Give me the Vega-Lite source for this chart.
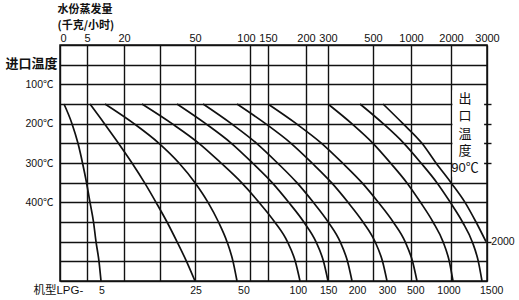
{
  "$schema": "https://vega.github.io/schema/vega-lite/v6.json",
  "width": 427,
  "height": 236,
  "autosize": {"type": "none"},
  "padding": {"left": 60, "top": 45, "right": 32, "bottom": 19},
  "background": "white",
  "config": {
    "view": {"stroke": "#111", "strokeWidth": 1.5},
    "font": "Liberation Sans"
  },
  "resolve": {"axis": {"y": "independent"}},
  "datasets": {
    "curves": [
      {"model": "5", "temp": 150, "evap": 0.74}, {"model": "5", "temp": 200, "evap": 2.22}, {"model": "5", "temp": 250, "evap": 3.33}, {"model": "5", "temp": 300, "evap": 4.17}, {"model": "5", "temp": 350, "evap": 4.91}, {"model": "5", "temp": 400, "evap": 6.22}, {"model": "5", "temp": 450, "evap": 7.64}, {"model": "5", "temp": 500, "evap": 8.65}, {"model": "5", "temp": 550, "evap": 9.86}, {"model": "5", "temp": 600, "evap": 10.68},
      {"model": "25", "temp": 150, "evap": 6.22}, {"model": "25", "temp": 200, "evap": 12.09}, {"model": "25", "temp": 250, "evap": 17.77}, {"model": "25", "temp": 300, "evap": 23.38}, {"model": "25", "temp": 350, "evap": 28.66}, {"model": "25", "temp": 400, "evap": 33.52}, {"model": "25", "temp": 450, "evap": 38.17}, {"model": "25", "temp": 500, "evap": 42.39}, {"model": "25", "temp": 550, "evap": 46.41}, {"model": "25", "temp": 600, "evap": 50},
      {"model": "50", "temp": 150, "evap": 12.3}, {"model": "50", "temp": 200, "evap": 24.23}, {"model": "50", "temp": 250, "evap": 34.79}, {"model": "50", "temp": 300, "evap": 43.24}, {"model": "50", "temp": 350, "evap": 50}, {"model": "50", "temp": 400, "evap": 61.82}, {"model": "50", "temp": 450, "evap": 71.36}, {"model": "50", "temp": 500, "evap": 79.09}, {"model": "50", "temp": 550, "evap": 84.55}, {"model": "50", "temp": 600, "evap": 88.18},
      {"model": "100", "temp": 150, "evap": 27.6}, {"model": "100", "temp": 200, "evap": 40.3}, {"model": "100", "temp": 250, "evap": 53.6}, {"model": "100", "temp": 300, "evap": 73.6}, {"model": "100", "temp": 350, "evap": 92.3}, {"model": "100", "temp": 400, "evap": 125.0}, {"model": "100", "temp": 450, "evap": 158.8}, {"model": "100", "temp": 500, "evap": 175.5}, {"model": "100", "temp": 550, "evap": 185.9}, {"model": "100", "temp": 600, "evap": 192.1},
      {"model": "150", "temp": 150, "evap": 42.4}, {"model": "150", "temp": 200, "evap": 59.7}, {"model": "150", "temp": 250, "evap": 83.1}, {"model": "150", "temp": 300, "evap": 106.9}, {"model": "150", "temp": 350, "evap": 155.4}, {"model": "150", "temp": 400, "evap": 177.2}, {"model": "150", "temp": 450, "evap": 197.1}, {"model": "150", "temp": 500, "evap": 245.0}, {"model": "150", "temp": 550, "evap": 279.5}, {"model": "150", "temp": 600, "evap": 300},
      {"model": "200", "temp": 150, "evap": 57.3}, {"model": "200", "temp": 200, "evap": 83.0}, {"model": "200", "temp": 250, "evap": 118.3}, {"model": "200", "temp": 300, "evap": 162.5}, {"model": "200", "temp": 350, "evap": 188.0}, {"model": "200", "temp": 400, "evap": 233.2}, {"model": "200", "temp": 450, "evap": 300.9}, {"model": "200", "temp": 500, "evap": 353.8}, {"model": "200", "temp": 550, "evap": 386.7}, {"model": "200", "temp": 600, "evap": 406.7},
      {"model": "300", "temp": 150, "evap": 88.2}, {"model": "300", "temp": 200, "evap": 143.1}, {"model": "300", "temp": 250, "evap": 180.3}, {"model": "300", "temp": 300, "evap": 227.3}, {"model": "300", "temp": 350, "evap": 315.6}, {"model": "300", "temp": 400, "evap": 388.9}, {"model": "300", "temp": 450, "evap": 455.5}, {"model": "300", "temp": 500, "evap": 526.3}, {"model": "300", "temp": 550, "evap": 625.0}, {"model": "300", "temp": 600, "evap": 684.2},
      {"model": "500", "temp": 150, "evap": 150}, {"model": "500", "temp": 200, "evap": 187.2}, {"model": "500", "temp": 250, "evap": 270.9}, {"model": "500", "temp": 300, "evap": 364.4}, {"model": "500", "temp": 350, "evap": 450.7}, {"model": "500", "temp": 400, "evap": 569.7}, {"model": "500", "temp": 450, "evap": 765.8}, {"model": "500", "temp": 500, "evap": 922.4}, {"model": "500", "temp": 550, "evap": 1037.5}, {"model": "500", "temp": 600, "evap": 1150},
      {"model": "1000", "temp": 150, "evap": 300}, {"model": "1000", "temp": 200, "evap": 405.8}, {"model": "1000", "temp": 250, "evap": 500}, {"model": "1000", "temp": 300, "evap": 730.3}, {"model": "1000", "temp": 350, "evap": 944.8}, {"model": "1000", "temp": 400, "evap": 1237.5}, {"model": "1000", "temp": 450, "evap": 1550}, {"model": "1000", "temp": 500, "evap": 1800}, {"model": "1000", "temp": 550, "evap": 1957.5}, {"model": "1000", "temp": 600, "evap": 2055.6},
      {"model": "1500", "temp": 150, "evap": 442.2}, {"model": "1500", "temp": 200, "evap": 634.2}, {"model": "1500", "temp": 250, "evap": 906.6}, {"model": "1500", "temp": 300, "evap": 1250}, {"model": "1500", "temp": 350, "evap": 1647.5}, {"model": "1500", "temp": 400, "evap": 1982.5}, {"model": "1500", "temp": 450, "evap": 2319.5}, {"model": "1500", "temp": 500, "evap": 2588.9}, {"model": "1500", "temp": 550, "evap": 2758.4}, {"model": "1500", "temp": 600, "evap": 2861.2},
      {"model": "2000", "temp": 150, "evap": 631.6}, {"model": "2000", "temp": 200, "evap": 894.8}, {"model": "2000", "temp": 250, "evap": 1275}, {"model": "2000", "temp": 300, "evap": 1625}, {"model": "2000", "temp": 350, "evap": 2000}, {"model": "2000", "temp": 400, "evap": 2388.9}, {"model": "2000", "temp": 450, "evap": 2694.4}, {"model": "2000", "temp": 500, "evap": 2972.2}
    ],
    "labels": [
      {"model": "5", "evap": 11, "temp": 625},
      {"model": "25", "evap": 50.9, "temp": 625},
      {"model": "50", "evap": 94.5, "temp": 625},
      {"model": "100", "evap": 189.9, "temp": 625},
      {"model": "150", "evap": 303, "temp": 625},
      {"model": "200", "evap": 431, "temp": 625},
      {"model": "300", "evap": 691, "temp": 625},
      {"model": "500", "evap": 1120, "temp": 625},
      {"model": "1000", "evap": 1950, "temp": 625},
      {"model": "1500", "evap": 3130, "temp": 625},
      {"model": "2000", "evap": 3444, "temp": 500}
    ]
  },
  "layer": [
    {
      "data": {"name": "curves"},
      "mark": {"type": "line", "interpolate": "monotone", "color": "#111", "strokeWidth": 1.7},
      "encoding": {
        "x": {
          "field": "evap", "type": "quantitative",
          "scale": {"domain": [0, 5, 20, 50, 100, 150, 200, 300, 500, 1000, 2000, 3000], "range": [0, 27, 64, 135, 190, 208, 246, 268, 313, 351, 391, 427], "nice": false, "zero": false},
          "axis": {
            "orient": "top",
            "values": [0, 5, 20, 35, 50, 100, 150, 200, 300, 500, 1000, 2000, 3000],
            "tickCount": 30,
            "labelExpr": "datum.value == 35 ? '' : '' + datum.value",
            "labelOverlap": false,
            "labelFlush": false,
            "labelAlign": {"condition": {"test": "datum.value == 0", "value": "left"}, "value": "center"},
            "labelOffset": {"condition": {"test": "datum.value == 100", "value": -4}, "value": 0},
            "labelFontSize": 11,
            "labelFont": "Liberation Sans",
            "labelColor": "#111",
            "labelPadding": 1.5,
            "ticks": false,
            "domain": false,
            "grid": true,
            "gridColor": "#111",
            "gridWidth": 1.4,
            "gridOpacity": 1,
            "title": ["水份蒸发量", "(千克/小时)"],
            "titleFont": "Noto Sans CJK SC",
            "titleFontSize": 11,
            "titleFontWeight": "bold",
            "titleColor": "#111",
            "titleAngle": 0,
            "titleAlign": "left",
            "titleBaseline": "top",
            "titleLineHeight": 16,
            "titleX": -3,
            "titleY": -41.5
          }
        },
        "y": {
          "field": "temp", "type": "quantitative",
          "scale": {"domain": [0, 600], "reverse": true, "nice": false, "zero": false},
          "axis": {
            "orient": "left",
            "values": [0, 50, 100, 150, 200, 250, 300, 350, 400, 450, 500, 550, 600],
            "tickCount": 30,
            "labelExpr": "(datum.value == 100 || datum.value == 200 || datum.value == 300 || datum.value == 400) ? datum.value + '℃' : ''",
            "labelFont": "Liberation Sans, Noto Sans CJK SC",
            "labelFontSize": 10.5,
            "labelColor": "#111",
            "labelPadding": 7,
            "ticks": false,
            "domain": false,
            "grid": true,
            "gridColor": "#111",
            "gridWidth": 1.4,
            "gridOpacity": 1,
            "title": "进口温度",
            "titleFont": "Noto Sans CJK SC",
            "titleFontSize": 13,
            "titleFontWeight": "bold",
            "titleColor": "#111",
            "titleAngle": 0,
            "titleAlign": "right",
            "titleBaseline": "middle",
            "titleX": -3,
            "titleY": 18
          }
        },
        "detail": {"field": "model"},
        "order": {"field": "temp"}
      }
    },
    {
      "data": {"values": [{"x1": 2040, "x2": 2920, "y1": 115, "y2": 335}]},
      "mark": {"type": "rect", "color": "white"},
      "encoding": {
        "x": {"field": "x1", "type": "quantitative"},
        "x2": {"field": "x2"},
        "y": {
          "field": "y1", "type": "quantitative",
          "axis": {"orient": "right", "values": [150, 200, 250, 300, 500], "tickCount": 30, "labels": false, "grid": false, "domain": false, "tickSize": 4, "tickColor": "#111", "tickWidth": 1.4, "title": null}
        },
        "y2": {"field": "y2"}
      }
    },
    {
      "data": {"name": "labels"},
      "mark": {"type": "text", "font": "Liberation Sans", "fontSize": 10.5, "color": "#111", "baseline": "middle"},
      "encoding": {
        "x": {"field": "evap", "type": "quantitative"},
        "y": {"field": "temp", "type": "quantitative", "axis": null},
        "text": {"field": "model"}
      }
    },
    {
      "data": {"values": [{"note": "机型LPG-", "evap": 4.3, "temp": 625}]},
      "mark": {"type": "text", "font": "Liberation Sans, Noto Sans CJK SC", "fontSize": 11.5, "color": "#111", "align": "right", "baseline": "middle"},
      "encoding": {
        "x": {"field": "evap", "type": "quantitative"},
        "y": {"field": "temp", "type": "quantitative", "axis": null},
        "text": {"field": "note"}
      }
    },
    {
      "data": {"values": [{"evap": 2390, "temp": 137}]},
      "mark": {"type": "text", "font": "Noto Sans CJK SC", "fontSize": 13, "color": "#111", "align": "center", "baseline": "middle", "lineHeight": 17.5, "text": ["出", "口", "温", "度"]},
      "encoding": {
        "x": {"field": "evap", "type": "quantitative"},
        "y": {"field": "temp", "type": "quantitative", "axis": null}
      }
    },
    {
      "data": {"values": [{"note": "90℃", "evap": 2390, "temp": 313}]},
      "mark": {"type": "text", "font": "Liberation Sans, Noto Sans CJK SC", "fontSize": 13, "color": "#111", "align": "center", "baseline": "middle"},
      "encoding": {
        "x": {"field": "evap", "type": "quantitative"},
        "y": {"field": "temp", "type": "quantitative", "axis": null},
        "text": {"field": "note"}
      }
    }
  ]
}
